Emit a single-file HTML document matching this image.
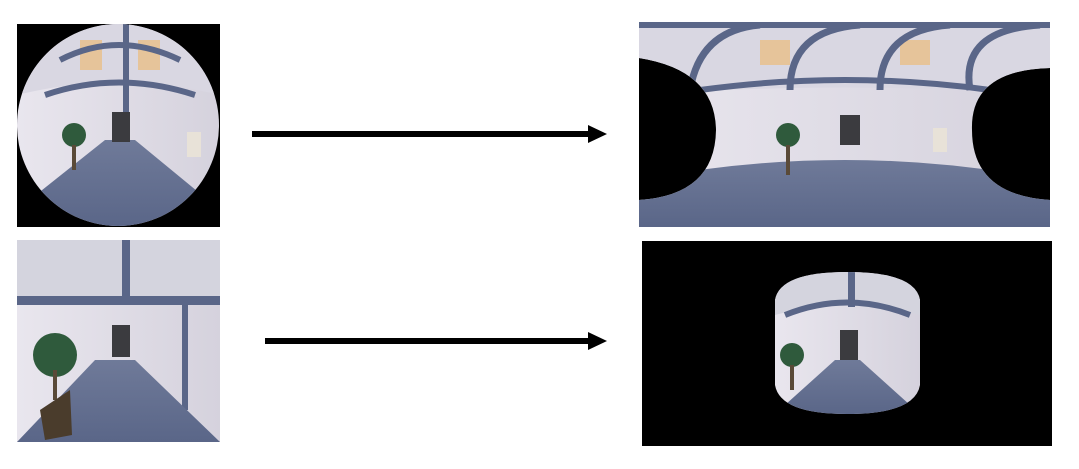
<!DOCTYPE html>
<html><head><meta charset="utf-8"><style>
html,body{margin:0;padding:0;background:#fff;width:1079px;height:469px;overflow:hidden;font-family:"Liberation Sans",sans-serif}
svg{display:block}
</style></head><body>
<svg width="1079" height="469" viewBox="0 0 1079 469">
<defs>
<linearGradient id="floor" x1="0" y1="0" x2="0" y2="1"><stop offset="0" stop-color="#6f7a99"/><stop offset="1" stop-color="#5a6688"/></linearGradient>
<linearGradient id="wall" x1="0" y1="0" x2="1" y2="0"><stop offset="0" stop-color="#e9e6ee"/><stop offset="1" stop-color="#d5d2dd"/></linearGradient>
<clipPath id="c1"><circle cx="118" cy="125" r="101"/></clipPath>
<clipPath id="c2"><rect x="17" y="240" width="203" height="202"/></clipPath>
<clipPath id="c3"><path d="M639 22 H1050 V68 Q970 70 972 130 Q972 195 1050 200 V227 H639 V200 Q715 195 716 130 Q715 70 639 58 Z"/></clipPath>
<clipPath id="c4"><path d="M775 300 Q780 272 847 272 Q915 272 920 300 V385 Q915 414 847 414 Q780 414 775 385 Z"/></clipPath>
</defs>

<!-- top-left fisheye -->
<g>
<rect x="17" y="24" width="203" height="203" fill="#000"/>
<g clip-path="url(#c1)">
<rect x="17" y="24" width="203" height="203" fill="url(#wall)"/>
<path d="M17 24 H220 V95 Q118 70 17 95 Z" fill="#d9d7e2"/>
<rect x="80" y="40" width="22" height="30" fill="#e6c49a"/>
<rect x="138" y="40" width="22" height="30" fill="#e6c49a"/>
<path d="M60 60 Q118 30 180 60" stroke="#5a6688" stroke-width="6" fill="none"/>
<path d="M45 95 Q118 70 195 95" stroke="#5a6688" stroke-width="6" fill="none"/>
<rect x="123" y="24" width="6" height="120" fill="#5a6688"/>
<path d="M17 210 L105 140 H135 L220 210 V227 H17 Z" fill="url(#floor)"/>
<rect x="112" y="112" width="18" height="30" fill="#3b3b3f"/>
<circle cx="74" cy="135" r="12" fill="#2f5a3c"/>
<rect x="72" y="145" width="4" height="25" fill="#5a4a38"/>
<rect x="187" y="132" width="14" height="25" fill="#e8e2d8"/>
</g></g>

<!-- bottom-left perspective -->
<g clip-path="url(#c2)">
<rect x="17" y="240" width="203" height="202" fill="url(#wall)"/>
<path d="M17 240 H220 V305 L185 300 H55 L17 305 Z" fill="#d4d4de"/>
<rect x="17" y="296" width="203" height="9" fill="#5a6688"/>
<rect x="122" y="240" width="8" height="60" fill="#5a6688"/>
<rect x="182" y="300" width="6" height="110" fill="#5a6688"/>
<path d="M17 442 L95 360 H135 L220 442 Z" fill="url(#floor)"/>
<rect x="112" y="325" width="18" height="32" fill="#3b3b3f"/>
<circle cx="55" cy="355" r="22" fill="#2f5a3c"/>
<rect x="53" y="370" width="4" height="30" fill="#5a4a38"/>
<path d="M40 410 L70 390 L72 435 L45 440 Z" fill="#4a3c2c"/>
</g>

<!-- arrows -->
<g>
<rect x="252" y="131" width="338" height="6" fill="#000"/>
<polygon points="588,125 607,134 588,143" fill="#000"/>
</g>
<g>
<rect x="265" y="338" width="325" height="6" fill="#000"/>
<polygon points="588,332 607,341 588,350" fill="#000"/>
</g>

<!-- top-right equirect -->
<g>
<rect x="639" y="22" width="411" height="205" fill="#000"/>
<g clip-path="url(#c3)">
<rect x="639" y="22" width="411" height="205" fill="url(#wall)"/>
<path d="M639 22 H1050 V95 Q845 80 639 95 Z" fill="#d9d7e2"/>
<rect x="760" y="40" width="30" height="25" fill="#e6c49a"/>
<rect x="900" y="40" width="30" height="25" fill="#e6c49a"/>
<path d="M690 90 Q700 30 760 25 M790 90 Q790 30 860 25 M880 90 Q880 30 950 25 M970 90 Q960 30 1040 25" stroke="#5a6688" stroke-width="7" fill="none"/>
<rect x="639" y="22" width="411" height="6" fill="#5a6688"/>
<path d="M700 90 Q845 70 990 90" stroke="#5a6688" stroke-width="6" fill="none"/>
<path d="M639 180 Q845 140 1050 180 V227 H639 Z" fill="url(#floor)"/>
<rect x="840" y="115" width="20" height="30" fill="#3b3b3f"/>
<circle cx="788" cy="135" r="12" fill="#2f5a3c"/>
<rect x="786" y="145" width="4" height="30" fill="#5a4a38"/>
<rect x="933" y="128" width="14" height="24" fill="#e8e2d8"/>
</g></g>

<!-- bottom-right equirect -->
<g>
<rect x="642" y="241" width="410" height="205" fill="#000"/>
<g clip-path="url(#c4)">
<rect x="775" y="272" width="145" height="142" fill="url(#wall)"/>
<path d="M775 272 H920 V315 Q847 295 775 315 Z" fill="#d4d4de"/>
<path d="M785 315 Q847 290 910 315" stroke="#5a6688" stroke-width="6" fill="none"/>
<rect x="848" y="272" width="7" height="35" fill="#5a6688"/>
<path d="M775 414 L835 360 H860 L920 414 Z" fill="url(#floor)"/>
<rect x="840" y="330" width="18" height="30" fill="#3b3b3f"/>
<circle cx="792" cy="355" r="12" fill="#2f5a3c"/>
<rect x="790" y="365" width="4" height="25" fill="#5a4a38"/>
</g></g>
</svg>
</body></html>
